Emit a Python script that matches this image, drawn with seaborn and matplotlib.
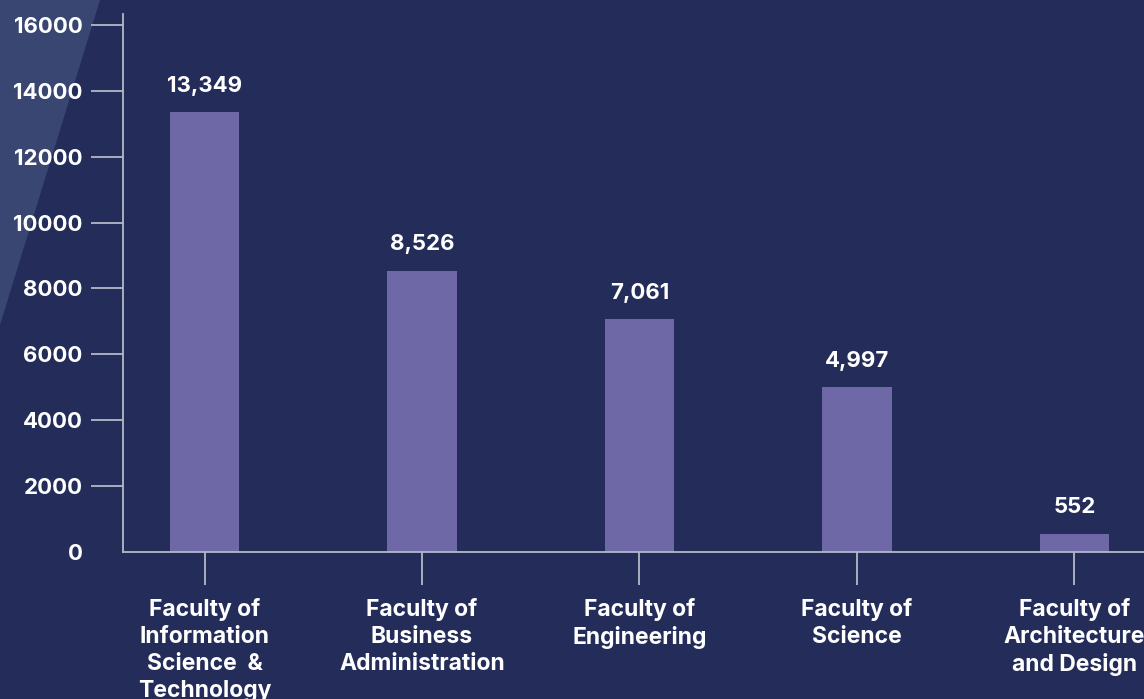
import matplotlib
matplotlib.use('Agg')
import matplotlib.pyplot as plt
import seaborn as sns
import pandas as pd
from matplotlib.patches import Polygon

faculties = [
    'Faculty of\nInformation\nScience  &\nTechnology',
    'Faculty of\nBusiness\nAdministration',
    'Faculty of\nEngineering',
    'Faculty of\nScience',
    'Faculty of\nArchitecture\nand Design',
]
students = [13349, 8526, 7061, 4997, 552]
yticks = [0, 2000, 4000, 6000, 8000, 10000, 12000, 14000, 16000]

bg = '#242d5a'
stripe = '#394672'
bar_color = '#6e68a6'
line_color = '#b4b8c8'

sns.set_theme(style='white')
plt.rcParams['font.family'] = ['Inter', 'DejaVu Sans']

df = pd.DataFrame({'faculty': faculties, 'students': students})

fig = plt.figure(figsize=(11.44, 6.99), dpi=100, facecolor=bg)

# background layer with the lighter diagonal band top-left
bg_ax = fig.add_axes([0, 0, 1, 1], zorder=-10)
bg_ax.set_xlim(0, 1144)
bg_ax.set_ylim(699, 0)
bg_ax.axis('off')
bg_ax.add_patch(Polygon([[0, 0], [100, 0], [0, 325]], closed=True,
                        facecolor=stripe, edgecolor='none'))

ax = fig.add_axes([123 / 1144, 1 - 552 / 699, 1 - 123 / 1144, 538 / 699])
ax.set_facecolor('none')

sns.barplot(data=df, x='faculty', y='students', color=bar_color,
            width=0.32, saturation=1, linewidth=0, edgecolor='none', ax=ax)

for i, v in enumerate(students):
    ax.annotate(f'{v:,}', (i, v), xytext=(0, 12), textcoords='offset points',
                ha='center', va='bottom', color='white', fontsize=16,
                fontweight='bold')

ax.set_xlim(-0.375, 4.32)
ax.set_ylim(0, 16330)
ax.set_yticks(yticks)
ax.set_yticklabels([str(t) for t in yticks])
ax.set_xlabel('')
ax.set_ylabel('')

for s in ['top', 'right']:
    ax.spines[s].set_visible(False)
for s in ['left', 'bottom']:
    ax.spines[s].set_color(line_color)
    ax.spines[s].set_linewidth(1.3)

ax.tick_params(axis='y', left=True, direction='out', length=23, width=1.3,
               color=line_color, pad=6, labelcolor='white', labelsize=16)
ax.tick_params(axis='x', bottom=True, direction='out', length=24, width=1.3,
               color=line_color, pad=9, labelcolor='white', labelsize=16.5)
ax.yaxis.get_major_ticks()[0].tick1line.set_visible(False)
for lab in ax.get_yticklabels() + ax.get_xticklabels():
    lab.set_fontweight('bold')
for lab in ax.get_xticklabels():
    lab.set_linespacing(1.3)

fig.savefig('out.png', dpi=100, facecolor=bg)
